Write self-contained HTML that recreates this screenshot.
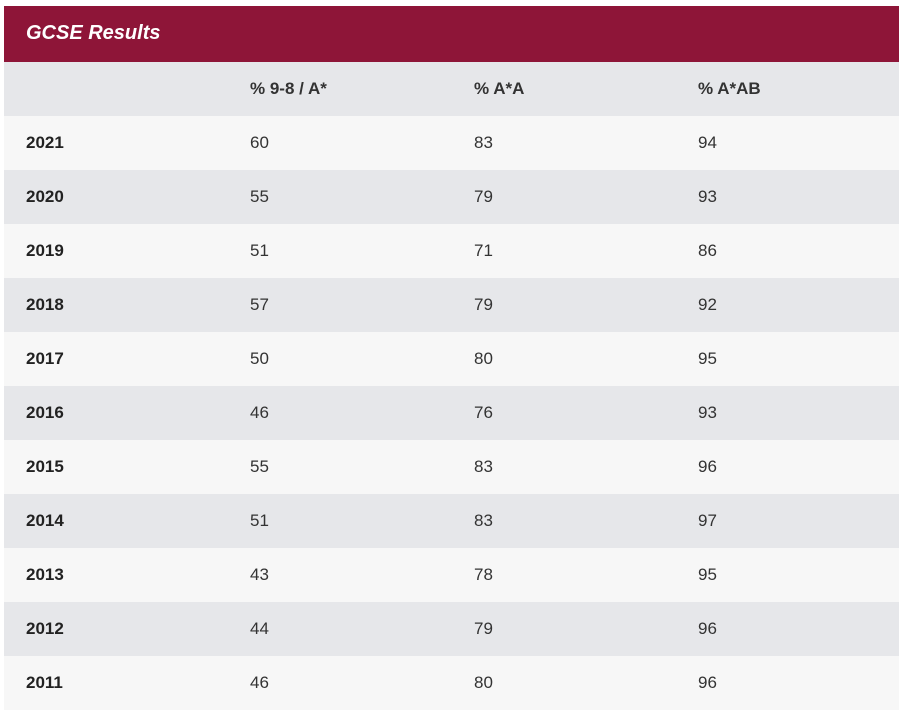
<!DOCTYPE html>
<html><head><style>
body{margin:0;background:#fff;width:907px;height:718px;overflow:hidden;font-family:"Liberation Sans",sans-serif;}
.wrap{position:absolute;left:4px;top:6px;width:895px;}
.title{background:#8e1538;height:56px;color:#fff;font-style:italic;font-weight:bold;font-size:20px;line-height:54px;padding-left:22px;}
.row{height:54px;position:relative;font-size:17px;color:#333;}
.row span{position:absolute;top:0;line-height:54px;}
.g{background:#e6e7ea}.l{background:#f7f7f7}
.hd span{font-weight:bold;color:#333}
.row span.y{font-weight:bold;color:#222}
</style></head><body><div class="wrap">
<div class="title">GCSE Results</div>
<div class="row g hd"><span style="left:246px">% 9-8 / A*</span><span style="left:470px">% A*A</span><span style="left:694px">% A*AB</span></div>
<div class="row l"><span class="y" style="left:22px">2021</span><span style="left:246px">60</span><span style="left:470px">83</span><span style="left:694px">94</span></div>
<div class="row g"><span class="y" style="left:22px">2020</span><span style="left:246px">55</span><span style="left:470px">79</span><span style="left:694px">93</span></div>
<div class="row l"><span class="y" style="left:22px">2019</span><span style="left:246px">51</span><span style="left:470px">71</span><span style="left:694px">86</span></div>
<div class="row g"><span class="y" style="left:22px">2018</span><span style="left:246px">57</span><span style="left:470px">79</span><span style="left:694px">92</span></div>
<div class="row l"><span class="y" style="left:22px">2017</span><span style="left:246px">50</span><span style="left:470px">80</span><span style="left:694px">95</span></div>
<div class="row g"><span class="y" style="left:22px">2016</span><span style="left:246px">46</span><span style="left:470px">76</span><span style="left:694px">93</span></div>
<div class="row l"><span class="y" style="left:22px">2015</span><span style="left:246px">55</span><span style="left:470px">83</span><span style="left:694px">96</span></div>
<div class="row g"><span class="y" style="left:22px">2014</span><span style="left:246px">51</span><span style="left:470px">83</span><span style="left:694px">97</span></div>
<div class="row l"><span class="y" style="left:22px">2013</span><span style="left:246px">43</span><span style="left:470px">78</span><span style="left:694px">95</span></div>
<div class="row g"><span class="y" style="left:22px">2012</span><span style="left:246px">44</span><span style="left:470px">79</span><span style="left:694px">96</span></div>
<div class="row l"><span class="y" style="left:22px">2011</span><span style="left:246px">46</span><span style="left:470px">80</span><span style="left:694px">96</span></div>
</div></body></html>
